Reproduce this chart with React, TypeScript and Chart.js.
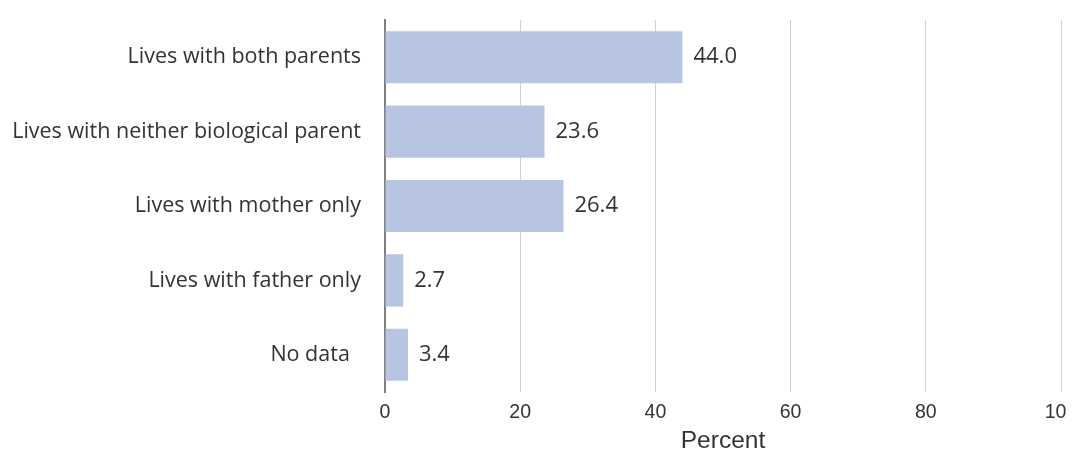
import React, { useEffect, useRef } from "react";
import { Chart, registerables } from "chart.js";

Chart.register(...registerables);

const categories = [
  "Lives with both parents",
  "Lives with neither biological parent",
  "Lives with mother only",
  "Lives with father only",
  "No data  ",
];
const values = [44.0, 23.6, 26.4, 2.7, 3.4];
const xTicks = [0, 20, 40, 60, 80, 100];

const labelFont = "'Open Sans', 'DejaVu Sans', sans-serif";
const tickFont = "'Liberation Sans', Arial, sans-serif";

const valueLabels = {
  id: "valueLabels",
  afterDatasetsDraw(chart: any) {
    const ctx = chart.ctx;
    const meta = chart.getDatasetMeta(0);
    ctx.save();
    ctx.font = `22px ${labelFont}`;
    ctx.fillStyle = "#333333";
    ctx.textAlign = "left";
    ctx.textBaseline = "middle";
    meta.data.forEach((bar: any, i: number) => {
      ctx.fillText(values[i].toFixed(1), bar.x + 11, bar.y);
    });
    ctx.restore();
  },
};

export default function App() {
  const ref = useRef<HTMLCanvasElement>(null);
  useEffect(() => {
    document.body.style.overflow = "hidden";
    const chart = new Chart(ref.current!, {
      type: "bar",
      data: {
        labels: categories,
        datasets: [
          {
            data: values,
            backgroundColor: "#b7c4e2",
            categoryPercentage: 1,
            barPercentage: 0.7,
          },
        ],
      },
      options: {
        indexAxis: "y",
        animation: false,
        responsive: false,
        layout: { padding: { top: 12, right: 22, bottom: 0, left: 0 } },
        plugins: { legend: { display: false }, tooltip: { enabled: false } },
        scales: {
          x: {
            min: 0,
            max: 100,
            afterBuildTicks: (s: any) => {
              s.ticks = xTicks.map((v) => ({ value: v }));
            },
            afterFit: (s: any) => {
              s.height = 58;
              s.paddingLeft = 0;
              s.paddingRight = 0;
            },
            grid: { color: "#d0d0d0", lineWidth: 1, drawTicks: false },
            border: { display: false },
            ticks: {
              padding: 9,
              color: "#333333",
              font: { family: tickFont, size: 19.5 },
            },
            title: {
              display: true,
              text: "Percent",
              color: "#333333",
              font: { family: tickFont, size: 24.5 },
              padding: { top: 2, bottom: -6 },
            },
          },
          y: {
            afterFit: (s: any) => {
              s.width = 377;
              s.paddingTop = 0;
              s.paddingBottom = 0;
            },
            grid: { display: false, drawTicks: false },
            border: { display: true, color: "#7f7f7f", width: 2 },
            ticks: {
              padding: 24,
              color: "#333333",
              font: { family: labelFont, size: 21.5 },
            },
          },
        },
      },
      plugins: [valueLabels],
    });
    return () => chart.destroy();
  }, []);
  return (
    <div style={{ width: 1075, height: 442 }}>
      <canvas ref={ref} width={1075} height={442} style={{ display: "block" }} />
    </div>
  );
}
